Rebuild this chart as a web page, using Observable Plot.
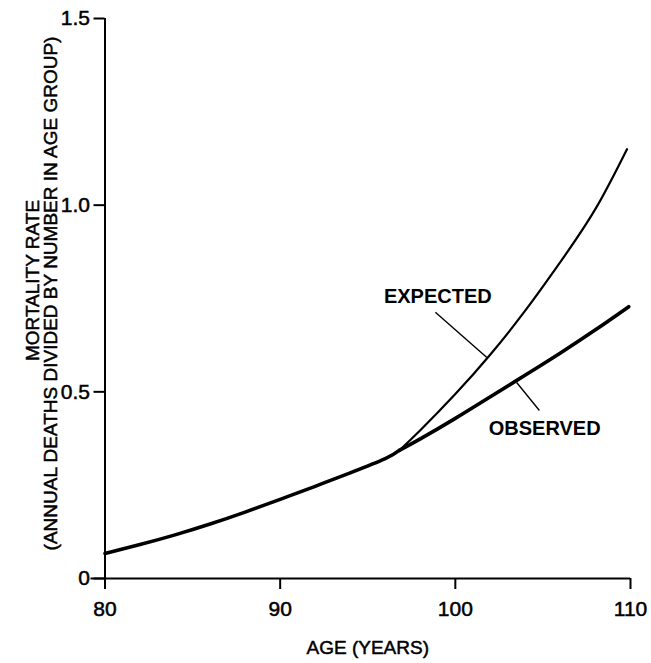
<!DOCTYPE html>
<html>
<head>
<meta charset="utf-8">
<script src="https://cdn.jsdelivr.net/npm/d3@7"></script>
<script src="https://cdn.jsdelivr.net/npm/@observablehq/plot@0.6"></script>
<style>
  html, body { margin: 0; padding: 0; background: #fff; }
  #chart svg { display: block; }
  #chart g[aria-label$="tick label"] text { stroke: #000; stroke-width: 0.5px; }
</style>
</head>
<body>
<div id="chart"></div>
<script>
// Shared part of the curve (ages 80 to the split point)
const commonAge  = [80, 82, 84, 86, 88, 90, 92, 94, 96, 96.8];
const commonRate = [0.067, 0.091, 0.117, 0.146, 0.178, 0.212, 0.247, 0.283, 0.321, 0.343];
// Expected branch
const expectedAge  = [96.8, 98, 100, 102, 104, 106, 108, 109.8];
const expectedRate = [0.343, 0.397, 0.494, 0.600, 0.718, 0.848, 0.990, 1.15];
// Observed branch
const observedAge  = [96.8, 98, 100, 102, 104, 106, 108, 109.9];
const observedRate = [0.343, 0.374, 0.429, 0.487, 0.545, 0.604, 0.666, 0.728];
// Tick values
const xTicks = [80, 90, 100, 110];
const yTicks = [0, 0.5, 1.0, 1.5];
// Annotation labels and leader lines (data coordinates)
const labelText = ["EXPECTED", "OBSERVED"];
const labelAge  = [99.0, 105.1];
const labelRate = [0.755, 0.402];
const leaderAge1  = [98.86, 104.8];
const leaderRate1 = [0.713, 0.450];
const leaderAge2  = [101.8, 103.5];
const leaderRate2 = [0.592, 0.525];

const zip = (a, b) => a.map((v, i) => ({age: v, rate: b[i]}));
const common = zip(commonAge, commonRate);
const expected = zip(expectedAge, expectedRate);
const observed = zip(observedAge, observedRate);
const labels = labelText.map((t, i) => ({text: t, age: labelAge[i], rate: labelRate[i]}));
const leaders = labelText.map((t, i) => ({x1: leaderAge1[i], y1: leaderRate1[i], x2: leaderAge2[i], y2: leaderRate2[i]}));

const FONT = "'Liberation Sans', Arial, Helvetica, sans-serif";

const chart = Plot.plot({
  width: 651,
  height: 663,
  marginLeft: 104.5,
  marginRight: 21,
  marginTop: 18,
  marginBottom: 85,
  style: { fontFamily: FONT, fontSize: "21px", color: "#000", background: "#fff" },
  x: { domain: [80, 110] },
  y: { domain: [0, 1.5] },
  marks: [
    Plot.axisX({ ticks: xTicks, tickSize: 11, tickPadding: 12, strokeWidth: 2, label: null, fontSize: 21, tickFormat: d => String(d) }),
    Plot.axisY({ ticks: yTicks, tickSize: 11, tickPadding: 4, strokeWidth: 2, label: null, fontSize: 21, tickFormat: d => d === 0 ? "0" : d.toFixed(1) }),
    Plot.ruleY([0], { stroke: "#000", strokeWidth: 1.8, x1: 79.2, x2: 110 }),
    Plot.ruleX([80], { stroke: "#000", strokeWidth: 2, y1: 0, y2: 1.5 }),
    Plot.line(common, { x: "age", y: "rate", stroke: "#000", strokeWidth: 3.5, curve: "natural", strokeLinecap: "round" }),
    Plot.line(expected, { x: "age", y: "rate", stroke: "#000", strokeWidth: 2.2, curve: "natural", strokeLinecap: "round" }),
    Plot.line(observed, { x: "age", y: "rate", stroke: "#000", strokeWidth: 3.6, curve: "natural", strokeLinecap: "round" }),
    Plot.link(leaders, { x1: "x1", y1: "y1", x2: "x2", y2: "y2", stroke: "#000", strokeWidth: 1.4 }),
    Plot.text(labels, { x: "age", y: "rate", text: "text", fontSize: 20, fontWeight: "bold", fill: "#000" }),
    Plot.text(["AGE (YEARS)"], { frameAnchor: "bottom", dy: 75, fontSize: 19, fill: "#000", stroke: "#000", strokeWidth: 0.5 }),
    Plot.text(["MORTALITY RATE"], { frameAnchor: "left", textAnchor: "middle", dx: -72, dy: -18, rotate: -90, fontSize: 19, fill: "#000", stroke: "#000", strokeWidth: 0.5 }),
    Plot.text(["(ANNUAL DEATHS DIVIDED BY NUMBER IN AGE GROUP)"], { frameAnchor: "left", textAnchor: "middle", dx: -54, dy: -5, rotate: -90, fontSize: 19, fill: "#000", stroke: "#000", strokeWidth: 0.5 })
  ]
});
document.getElementById("chart").appendChild(chart);
</script>
</body>
</html>
